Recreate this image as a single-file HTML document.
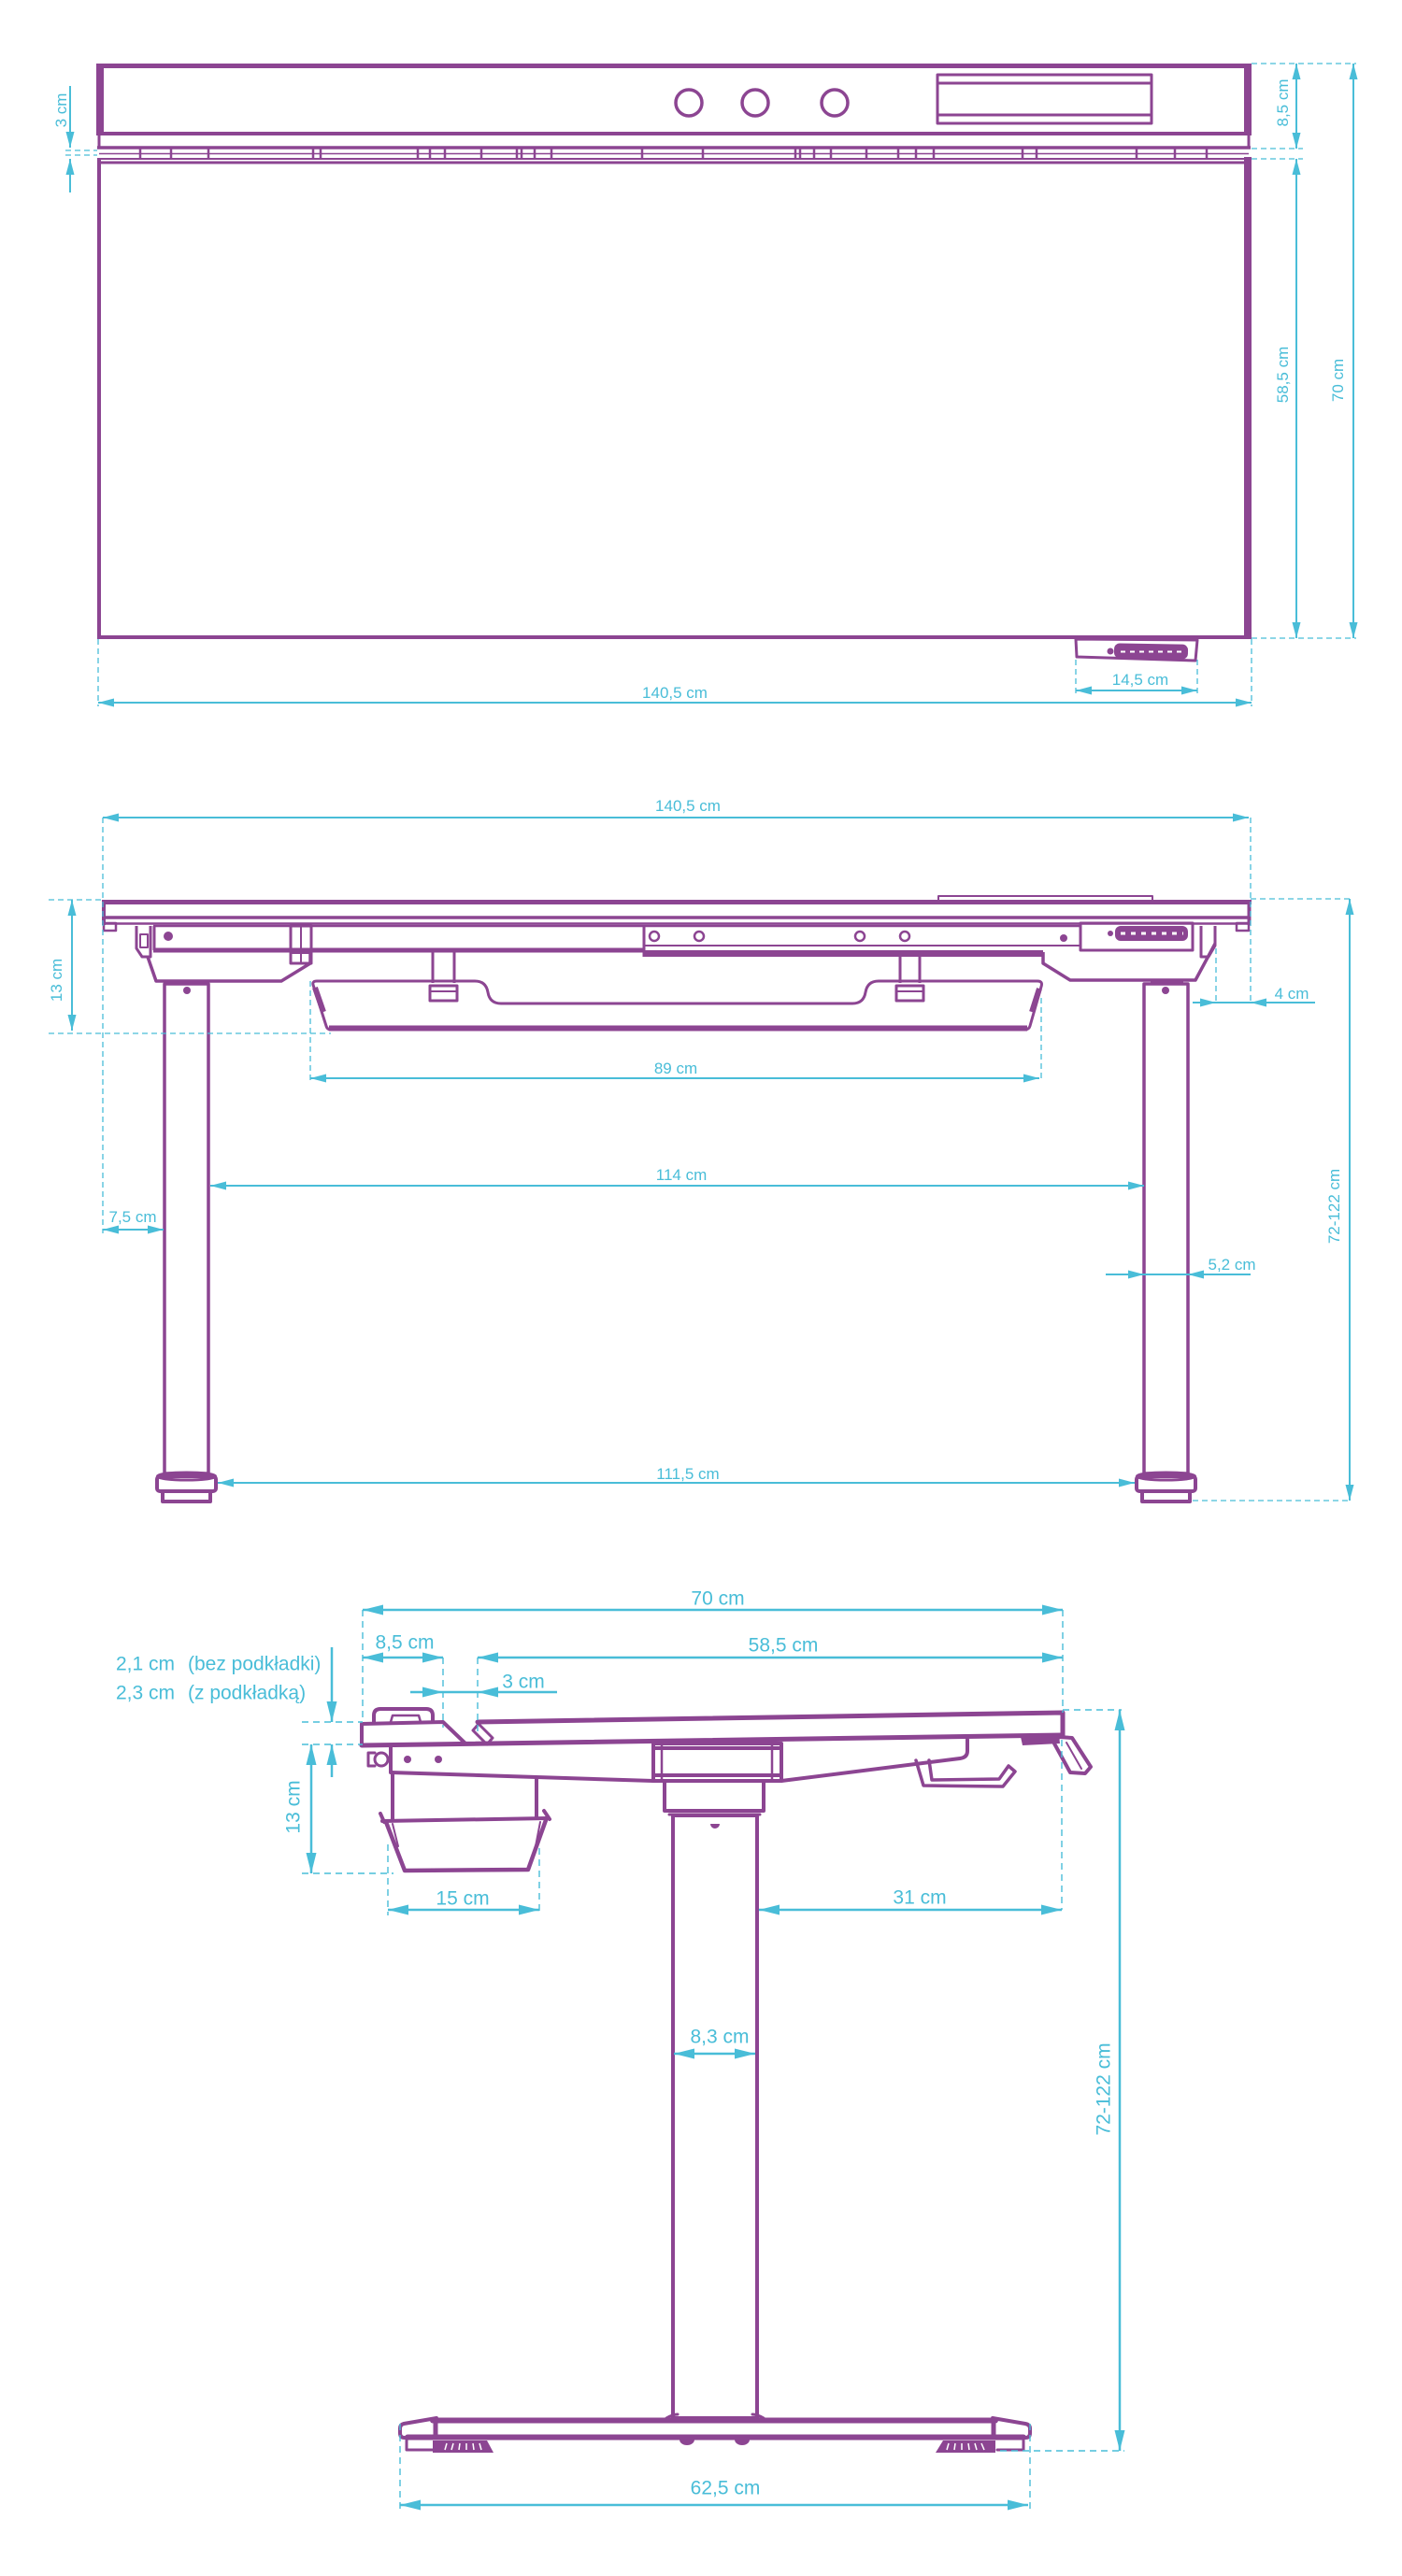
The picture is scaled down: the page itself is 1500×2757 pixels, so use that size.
<!DOCTYPE html>
<html><head><meta charset="utf-8"><style>
html,body{margin:0;padding:0;background:#fff;}
svg{display:block;}
text{font-family:"Liberation Sans",sans-serif;fill:#49bdd8;}
</style></head><body>
<svg width="1500" height="2757" viewBox="0 0 1500 2757" xmlns="http://www.w3.org/2000/svg">
<defs>
<marker id="m" viewBox="0 0 17 9" refX="17" refY="4.5" markerWidth="17" markerHeight="9" markerUnits="userSpaceOnUse" orient="auto-start-reverse"><path d="M0,0 L17,4.5 L0,9 Z" fill="#49bdd8"/></marker>
<marker id="M" viewBox="0 0 22 11" refX="22" refY="5.5" markerWidth="22" markerHeight="11" markerUnits="userSpaceOnUse" orient="auto-start-reverse"><path d="M0,0 L22,5.5 L0,11 Z" fill="#49bdd8"/></marker>
</defs>
<rect width="1500" height="2757" fill="#fff"/>

<!-- ================= TOP VIEW ================= -->
<g fill="none" stroke="#8c4592" stroke-linejoin="round">
<path d="M103,70.5 H1339" stroke-width="5"/>
<path d="M103,143 H1339" stroke-width="4"/>
<path d="M106,143 V158 M1336,143 V158" stroke-width="3"/>
<path d="M104,158 H1338" stroke-width="3.5"/>
<path d="M106,164.5 H1336" stroke-width="1.5"/>
<path d="M150,158V170 M183,158V170 M223,158V170 M335,158V170 M343,158V170 M447,158V170 M460,158V170 M476,158V170 M515,158V170 M553,158V170 M558,158V170 M572,158V170 M590,158V170 M687,158V170 M752,158V170 M851,158V170 M856,158V170 M871,158V170 M889,158V170 M927,158V170 M961,158V170 M980,158V170 M999,158V170 M1094,158V170 M1109,158V170 M1216,158V170 M1257,158V170 M1291,158V170" stroke-width="2.5"/>
<path d="M104,170 H1338" stroke-width="2"/>
<path d="M104,174 H1338" stroke-width="3"/>
<path d="M106,170 V684" stroke-width="4"/>
<path d="M104,682 H1339" stroke-width="4"/>
<circle cx="737" cy="110" r="14" stroke-width="3.5"/>
<circle cx="808" cy="110" r="14" stroke-width="3.5"/>
<circle cx="893" cy="110" r="14" stroke-width="3.5"/>
<rect x="1003" y="80" width="229" height="52" stroke-width="3"/>
<path d="M1003,89 H1232 M1003,123 H1232" stroke-width="3"/>
<path d="M1151,684 L1281,685 L1279,707 L1152,703 Z" stroke-width="3"/>
</g>
<rect x="103" y="68" width="8" height="76" fill="#8c4592"/>
<rect x="1331" y="68" width="8" height="76" fill="#8c4592"/>
<rect x="1331" y="168" width="8" height="516" fill="#8c4592"/>
<rect x="1192" y="689" width="79" height="16" rx="6" fill="#8c4592" transform="rotate(1 1230 697)"/>
<circle cx="1188" cy="697" r="3.5" fill="#8c4592"/>
<path d="M1199,697.5 H1266" stroke="#fff" stroke-width="2" stroke-dasharray="5 5"/>

<g fill="none" stroke="#49bdd8">
<g stroke-width="1.3" stroke-dasharray="6 4">
<path d="M70,161 H104 M70,166 H104"/>
<path d="M1339,68 H1451 M1339,159 H1394 M1339,170 H1394 M1339,683 H1451"/>
<path d="M1151,706 V745 M1281,706 V745"/>
<path d="M105,684 V756 M1339,684 V756"/>
</g>
<g stroke-width="2">
<path d="M75,92 V158" marker-end="url(#m)"/>
<path d="M75,206 V170" marker-end="url(#m)"/>
<path d="M1387,68 V159" marker-start="url(#m)" marker-end="url(#m)"/>
<path d="M1387,170 V683" marker-start="url(#m)" marker-end="url(#m)"/>
<path d="M1448,68 V683" marker-start="url(#m)" marker-end="url(#m)"/>
<path d="M1151,739 H1281" marker-start="url(#m)" marker-end="url(#m)"/>
<path d="M105,752 H1339" marker-start="url(#m)" marker-end="url(#m)"/>
</g>
</g>
<g font-size="17" text-anchor="middle">
<text transform="translate(65,118) rotate(-90)" dy=".35em">3 cm</text>
<text transform="translate(1372,110) rotate(-90)" dy=".35em">8,5 cm</text>
<text transform="translate(1372,401) rotate(-90)" dy=".35em">58,5 cm</text>
<text transform="translate(1431,407) rotate(-90)" dy=".35em">70 cm</text>
<text x="1220" y="727" dy=".35em">14,5 cm</text>
<text x="722" y="741" dy=".35em">140,5 cm</text>
</g>

<!-- ================= FRONT VIEW ================= -->
<g fill="none" stroke="#8c4592" stroke-linejoin="round">
<rect x="1004" y="959" width="229" height="5" stroke-width="2"/>
<path d="M109,965.5 H1339" stroke-width="5"/>
<path d="M111,982 H1336" stroke-width="3.5"/>
<path d="M111,988.5 H1336" stroke-width="2.5"/>
<path d="M111,963 V990 M1336.5,963 V990" stroke-width="4"/>
<rect x="111" y="988" width="13" height="8" stroke-width="2.5"/>
<rect x="1323" y="988" width="13" height="8" stroke-width="2.5"/>
<!-- beam -->
<path d="M164,991 H1156" stroke-width="2.5"/>
<path d="M165,991 V1017" stroke-width="3"/>
<path d="M164,1017 H689" stroke-width="5"/>
<path d="M689,991 V1024" stroke-width="3"/>
<path d="M689,1020.5 H1116" stroke-width="7"/>
<path d="M689,1012 H1156" stroke-width="2"/>
<rect x="1156" y="988" width="120" height="29" stroke-width="3"/>
<!-- brackets -->
<path d="M146,991 L146,1015 L152,1024 L161,1024 L161,991" stroke-width="3"/>
<rect x="150" y="1000" width="8" height="14" stroke-width="2"/>
<rect x="311" y="991" width="22" height="40" stroke-width="3"/>
<path d="M322,991 V1031 M311,1020 H333" stroke-width="2"/>
<path d="M1300,991 L1300,1012 L1293,1024 L1285,1024 L1285,991" stroke-width="3"/>
<!-- leg housings -->
<path d="M158,1024 L167,1050 L301,1050 L332,1031 L332,1019" stroke-width="3.5"/>
<path d="M1116,1019 L1116,1031 L1145,1049 L1279,1049 L1300,1010" stroke-width="3.5"/>
<!-- legs -->
<path d="M183,1050 H218 M1231,1050 H1266" stroke-width="3"/>
<rect x="176" y="1053" width="47" height="524" stroke-width="3.5"/>
<rect x="1224" y="1053" width="47" height="524" stroke-width="3.5"/>
<!-- feet -->
<ellipse cx="199.5" cy="1580" rx="31" ry="4" stroke-width="3"/>
<rect x="168" y="1580" width="63" height="16" rx="3" stroke-width="4"/>
<path d="M174,1596 V1607 H225 V1596" stroke-width="4"/>
<ellipse cx="1247.5" cy="1580" rx="31" ry="4" stroke-width="3"/>
<rect x="1216" y="1580" width="63" height="16" rx="3" stroke-width="4"/>
<path d="M1222,1596 V1607 H1273 V1596" stroke-width="4"/>
<!-- hangers -->
<path d="M463,1019 V1052 M486,1019 V1052 M963,1019 V1052 M984,1019 V1052" stroke-width="3"/>
<rect x="460" y="1055" width="29" height="16" stroke-width="3"/>
<path d="M460,1061 H489" stroke-width="2"/>
<rect x="959" y="1055" width="29" height="16" stroke-width="3"/>
<path d="M959,1061 H988" stroke-width="2"/>
<!-- tray -->
<path d="M335,1054 Q334,1050 339,1050 L508,1050 Q520,1050 522,1062 Q524,1074 536,1074 L912,1074 Q924,1074 926,1062 Q928,1050 940,1050 L1110,1050 Q1116,1050 1114,1056 L1102,1098 Q1101,1102 1096,1102 L354,1102 Q350,1102 349,1098 Z" stroke-width="3"/>
<path d="M352,1100.5 H1099" stroke-width="6"/>
<path d="M337,1057 L346,1083 M1112,1058 L1104,1083" stroke-width="6"/>
</g>
<g fill="#8c4592">
<circle cx="180" cy="1002" r="5"/>
<circle cx="1138" cy="1004" r="4"/>
<circle cx="200" cy="1060" r="4"/>
<circle cx="1247" cy="1060" r="4"/>
<rect x="1193" y="991" width="78" height="16" rx="6"/>
<circle cx="1188" cy="999" r="3"/>
</g>
<path d="M1199,999 H1266" stroke="#fff" stroke-width="3" stroke-dasharray="5 6"/>
<g fill="none" stroke="#8c4592" stroke-width="2.5">
<circle cx="700" cy="1002" r="5"/><circle cx="748" cy="1002" r="5"/>
<circle cx="920" cy="1002" r="5"/><circle cx="968" cy="1002" r="5"/>
</g>

<g fill="none" stroke="#49bdd8">
<g stroke-width="1.3" stroke-dasharray="6 4">
<path d="M110,875 V1320 M1338,875 V1075"/>
<path d="M52,963 H109 M52,1106 H354"/>
<path d="M332,1050 V1157 M1114,1068 V1157"/>
<path d="M1301,1015 V1075"/>
<path d="M1338,962 H1446 M1276,1606 H1446"/>
</g>
<g stroke-width="2">
<path d="M110,875 H1336" marker-start="url(#m)" marker-end="url(#m)"/>
<path d="M77,963 V1103" marker-start="url(#m)" marker-end="url(#m)"/>
<path d="M332,1154 H1112" marker-start="url(#m)" marker-end="url(#m)"/>
<path d="M225,1269 H1224" marker-start="url(#m)" marker-end="url(#m)"/>
<path d="M110,1316 H175" marker-start="url(#m)" marker-end="url(#m)"/>
<path d="M233,1587 H1214" marker-start="url(#m)" marker-end="url(#m)"/>
<path d="M1183,1364 H1224" marker-end="url(#m)"/>
<path d="M1224,1364 H1271"/>
<path d="M1338,1364 H1271" marker-end="url(#m)"/>
<path d="M1276,1073 H1301" marker-end="url(#m)"/>
<path d="M1301,1073 H1338"/>
<path d="M1407,1073 H1338" marker-end="url(#m)"/>
<path d="M1444,962 V1606" marker-start="url(#m)" marker-end="url(#m)"/>
</g>
</g>
<g font-size="17" text-anchor="middle">
<text x="736" y="862" dy=".35em">140,5 cm</text>
<text transform="translate(60,1049) rotate(-90)" dy=".35em">13 cm</text>
<text x="723" y="1143" dy=".35em">89 cm</text>
<text x="729" y="1257" dy=".35em">114 cm</text>
<text x="142" y="1302" dy=".35em">7,5 cm</text>
<text x="736" y="1577" dy=".35em">111,5 cm</text>
<text x="1318" y="1353" dy=".35em">5,2 cm</text>
<text x="1382" y="1063" dy=".35em">4 cm</text>
<text transform="translate(1427,1291) rotate(-90)" dy=".35em">72-122 cm</text>
</g>

<!-- ================= SIDE VIEW ================= -->
<g fill="none" stroke="#8c4592" stroke-linejoin="round" stroke-linecap="round">
<!-- desk top -->
<path d="M511,1843 L1137,1833 L1137,1858" stroke-width="5"/>
<path d="M387,1868 L1137,1857" stroke-width="5"/>
<path d="M506,1852 L512,1845 L527,1860 L521,1867 Z" stroke-width="3"/>
<path d="M387,1868 L387,1845 L474,1843 L498,1866" stroke-width="4"/>
<path d="M400,1843 L400,1836 Q400,1829 407,1829 L456,1829 Q463,1829 463,1836 L463,1843" stroke-width="4"/>
<path d="M418,1843 L420,1836 H448 L450,1843" stroke-width="2.5"/>
<!-- frame left -->
<path d="M418,1868 V1897 L699,1906" stroke-width="4"/>
<circle cx="408" cy="1883" r="7" stroke-width="3"/>
<path d="M401,1876 H394 V1890 H401" stroke-width="3"/>
<!-- drawer -->
<path d="M420,1897 V1947 M574,1904 V1946" stroke-width="4"/>
<path d="M409,1949 L586,1946" stroke-width="4"/>
<path d="M407,1941 L411,1950 M582,1938 L588,1947" stroke-width="4"/>
<path d="M413,1950 L433,2002 L565,2001 L584,1948" stroke-width="4.5"/>
<path d="M420,1952 L426,1976 M578,1950 L573,1976" stroke-width="2"/>
<!-- motor housing -->
<rect x="699" y="1866" width="137" height="40" stroke-width="4"/>
<path d="M708,1866 V1906 M826,1866 V1906" stroke-width="2.5"/>
<path d="M699,1871 H836 M699,1900 H836" stroke-width="4"/>
<rect x="711" y="1906" width="106" height="32" stroke-width="4"/>
<path d="M716,1942 H813" stroke-width="3"/>
<rect x="720" y="1943" width="90" height="645" stroke-width="4"/>
<!-- right frame -->
<path d="M836,1906 L1027,1882 Q1035,1881 1035,1874 L1035,1862" stroke-width="4"/>
<path d="M980,1884 L988,1911 L1073,1912 L1086,1896 L1079,1890 L1069,1904 L997,1905 L994,1884" stroke-width="3.5"/>
<path d="M1133,1859 L1147,1860 L1167,1891 L1161,1898 L1145,1897 L1128,1866 Z" stroke-width="4"/>
<path d="M1141,1865 L1157,1893" stroke-width="2"/>
<!-- base -->
<path d="M463,2590.5 H1065" stroke-width="6"/>
<path d="M436,2608.5 H1095" stroke-width="6"/>
<path d="M467,2588 L432,2594 Q428,2595 428,2599 L428,2604 Q428,2609 433,2609" stroke-width="4"/>
<path d="M1062,2588 L1097,2594 Q1102,2595 1102,2599 L1102,2604 Q1102,2609 1097,2609" stroke-width="4"/>
<path d="M466,2590 V2609 M1063,2590 V2609" stroke-width="5"/>
<path d="M435,2609 V2622 H463 M1095,2609 V2622 H1067" stroke-width="3"/>
<path d="M713,2588 Q720,2584 725,2584 M817,2588 Q810,2584 805,2584" stroke-width="3"/>
</g>
<g fill="#8c4592">
<circle cx="436" cy="1883" r="4"/>
<circle cx="469" cy="1883" r="4"/>
<path d="M760,1952 A5,5 0 0 0 770,1952 Z"/>
<path d="M1092,1859 L1133,1857 L1134,1866 L1094,1868 Z"/>
<path d="M463,2612 L521,2612 L528,2625 L463,2625 Z"/>
<path d="M1009,2612 L1065,2612 L1065,2625 L1001,2625 Z"/>
<path d="M727,2611 A8,6 0 0 0 743,2611 Z"/>
<path d="M786,2611 A8,6 0 0 0 802,2611 Z"/>
</g>
<path d="M478,2615 L476,2622 M485,2615 L483,2622 M492,2615 L491,2622 M499,2615 L499,2622 M506,2615 L507,2622 M513,2615 L515,2622 M1015,2615 L1013,2622 M1022,2615 L1021,2622 M1029,2615 L1029,2622 M1036,2615 L1037,2622 M1043,2615 L1045,2622 M1050,2615 L1053,2622" stroke="#fff" stroke-width="1.5"/>

<g fill="none" stroke="#49bdd8">
<g stroke-width="1.4" stroke-dasharray="7 5">
<path d="M388,1723 V1842 M1137,1723 V1833 M1136,1862 V2044"/>
<path d="M474,1774 V1849 M511,1774 V1854"/>
<path d="M323,1843 H388 M323,1867 H388 M323,2005 H421"/>
<path d="M415,1974 V2050 M577,1978 V2046"/>
<path d="M1137,1830 H1200 M1070,2623 H1203"/>
<path d="M428,2594 V2688 M1102,2594 V2688"/>
</g>
<g stroke-width="2.5">
<path d="M388,1723 H1137" marker-start="url(#M)" marker-end="url(#M)"/>
<path d="M388,1774 H474" marker-start="url(#M)" marker-end="url(#M)"/>
<path d="M511,1774 H1137" marker-start="url(#M)" marker-end="url(#M)"/>
<path d="M439,1811 H474" marker-end="url(#M)"/>
<path d="M474,1811 H511"/>
<path d="M596,1811 H511" marker-end="url(#M)"/>
<path d="M355,1763 V1843" marker-end="url(#M)"/>
<path d="M355,1902 V1867" marker-end="url(#M)"/>
<path d="M333,1867 V2005" marker-start="url(#M)" marker-end="url(#M)"/>
<path d="M415,2044 H577" marker-start="url(#M)" marker-end="url(#M)"/>
<path d="M812,2044 H1136" marker-start="url(#M)" marker-end="url(#M)"/>
<path d="M721,2198 H808" marker-start="url(#M)" marker-end="url(#M)"/>
<path d="M1198,1830 V2623" marker-start="url(#M)" marker-end="url(#M)"/>
<path d="M428,2681 H1100" marker-start="url(#M)" marker-end="url(#M)"/>
</g>
</g>
<g font-size="21" text-anchor="middle">
<text x="768" y="1710" dy=".35em">70 cm</text>
<text x="433" y="1757" dy=".35em">8,5 cm</text>
<text x="838" y="1760" dy=".35em">58,5 cm</text>
<text x="560" y="1799" dy=".35em">3 cm</text>
<text transform="translate(313,1934) rotate(-90)" dy=".35em">13 cm</text>
<text x="495" y="2031" dy=".35em">15 cm</text>
<text x="984" y="2030" dy=".35em">31 cm</text>
<text x="770" y="2179" dy=".35em">8,3 cm</text>
<text transform="translate(1180,2236) rotate(-90)" dy=".35em">72-122 cm</text>
<text x="776" y="2662" dy=".35em">62,5 cm</text>
</g>
<g font-size="21">
<text x="124" y="1780" dy=".35em">2,1 cm</text>
<text x="201" y="1780" dy=".35em">(bez podkładki)</text>
<text x="124" y="1811" dy=".35em">2,3 cm</text>
<text x="201" y="1811" dy=".35em">(z podkładką)</text>
</g>
</svg>
</body></html>
